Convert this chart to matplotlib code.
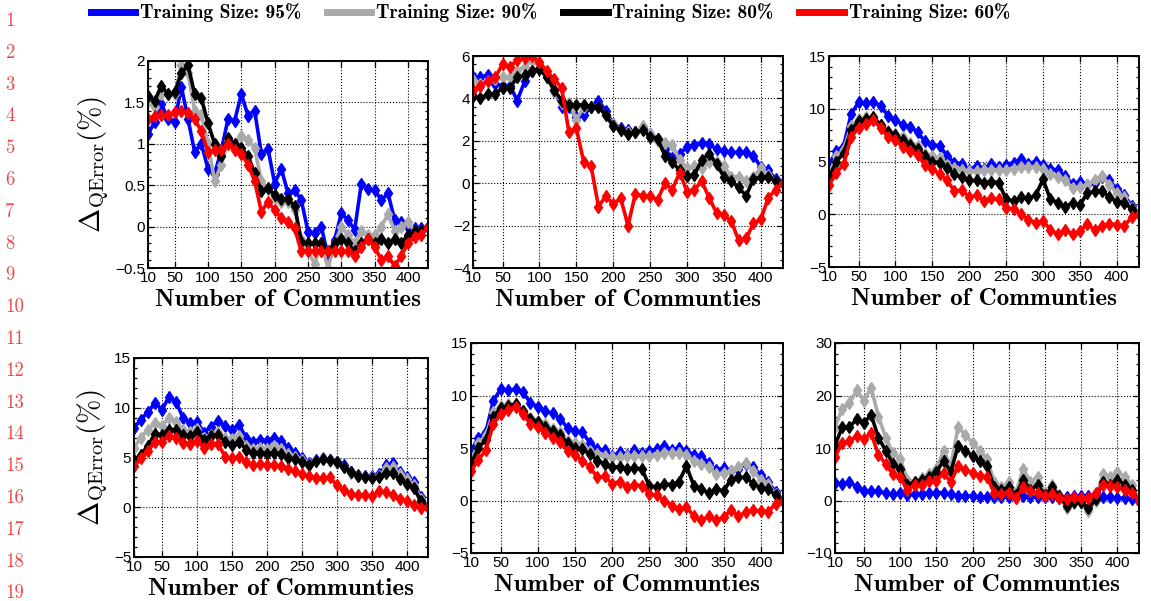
import matplotlib.pyplot as plt
from matplotlib.lines import Line2D
from matplotlib.ticker import AutoMinorLocator, FuncFormatter

plt.rcParams['mathtext.fontset'] = 'cm'
plt.rcParams['font.family'] = ['Liberation Sans', 'DejaVu Sans']

communities = [10, 20, 30, 40, 50, 60, 70, 80, 90, 100, 110, 120, 130, 140, 150,
               160, 170, 180, 190, 200, 210, 220, 230, 240, 250, 260, 270, 280, 290,
               300, 310, 320, 330, 340, 350, 360, 370, 380, 390, 400, 410, 420, 430]

labels = ["Training Size: 95%", "Training Size: 90%", "Training Size: 80%", "Training Size: 60%"]
colors = ["#0000ff", "#aaaaaa", "#000000", "#ff0000"]

# panel 1
p1_95 = [1.12, 1.26, 1.48, 1.30, 1.26, 1.69, 1.30, 0.90, 1.00, 0.70, 0.64, 0.92, 1.30, 1.28, 1.60,
         1.34, 1.40, 0.88, 0.94, 0.52, 0.70, 0.40, 0.44, 0.32, -0.06, -0.08, 0.00, -0.36, -0.16,
         0.16, 0.08, -0.04, 0.52, 0.46, 0.44, 0.32, 0.40, 0.08, 0.05, 0.00, -0.02, -0.02, 0.00]
p1_90 = [1.50, 1.45, 1.60, 1.60, 1.60, 1.95, 1.85, 1.40, 1.35, 1.00, 0.55, 0.75, 1.05, 1.00, 1.10,
         1.05, 0.95, 0.55, 0.45, 0.35, 0.30, 0.30, 0.20, -0.15, -0.30, -0.45, -0.20, -0.50, -0.20,
         0.00, -0.10, -0.20, -0.05, -0.10, -0.10, 0.00, 0.15, -0.05, 0.00, 0.05, -0.05, -0.05, 0.00]
p1_80 = [1.58, 1.52, 1.70, 1.60, 1.62, 1.85, 1.95, 1.60, 1.55, 1.25, 1.00, 0.85, 1.07, 1.00, 0.95,
         0.85, 0.65, 0.43, 0.47, 0.38, 0.33, 0.33, 0.25, -0.18, -0.20, -0.20, -0.20, -0.30, -0.20,
         -0.15, -0.20, -0.30, -0.20, -0.15, -0.20, -0.15, -0.20, -0.15, -0.20, -0.10, -0.05, -0.05, 0.00]
p1_60 = [1.30, 1.33, 1.35, 1.35, 1.38, 1.40, 1.37, 1.30, 1.15, 0.90, 0.92, 0.92, 1.00, 0.92, 0.88,
         0.75, 0.55, 0.18, 0.30, 0.20, 0.10, 0.06, -0.02, -0.30, -0.30, -0.30, -0.30, -0.30, -0.30,
         -0.30, -0.30, -0.35, -0.25, -0.15, -0.25, -0.40, -0.35, -0.48, -0.35, -0.20, -0.12, -0.10, 0.00]

# panel 2
p2_95 = [5.0, 5.0, 5.1, 4.7, 4.6, 4.6, 3.9, 4.8, 5.3, 5.4, 5.1, 4.4, 3.6, 3.6, 3.1,
         3.2, 3.6, 3.9, 3.4, 2.8, 2.6, 2.5, 2.4, 2.6, 2.3, 2.1, 1.6, 1.2, 1.4,
         1.7, 1.8, 1.9, 1.85, 1.6, 1.5, 1.45, 1.45, 1.45, 1.3, 0.75, 0.6, 0.2, 0.0]
p2_90 = [4.85, 4.7, 4.8, 4.9, 5.0, 5.0, 5.3, 5.5, 5.8, 5.6, 5.0, 4.3, 3.8, 3.8, 3.0,
         3.6, 3.6, 3.6, 3.2, 2.8, 2.5, 2.4, 2.4, 2.7, 2.3, 2.0, 1.9, 1.8, 1.1,
         0.7, 0.8, 0.7, 1.0, 1.0, 0.8, 0.3, 0.3, 0.1, 0.3, 0.7, 0.4, 0.1, 0.0]
p2_80 = [4.1, 4.0, 4.2, 4.2, 4.5, 4.5, 5.0, 5.1, 5.3, 5.4, 5.0, 4.4, 3.9, 3.7, 3.7,
         3.7, 3.6, 3.6, 3.2, 2.7, 2.5, 2.3, 2.4, 2.5, 2.2, 2.1, 1.3, 1.0, 0.6,
         0.35, 0.4, 1.1, 1.4, 0.9, 0.3, 0.1, -0.2, -0.6, 0.2, 0.3, 0.3, 0.1, 0.0]
p2_60 = [4.4, 4.6, 4.8, 5.0, 5.6, 5.5, 5.8, 5.9, 6.0, 5.7, 5.3, 4.9, 4.5, 2.4, 2.6,
         1.0, 0.8, -1.1, -0.6, -1.0, -0.7, -2.0, -0.5, -0.6, -0.6, -0.8, 0.0, -0.3, 0.5,
         -0.4, -0.3, 0.1, -0.7, -1.4, -1.5, -1.8, -2.7, -2.6, -1.9, -1.7, -0.7, -0.3, 0.0]

# panel 3 (same curves appear again in panel 5)
p3_95 = [4.7, 6.0, 6.5, 9.5, 10.6, 10.5, 10.6, 10.3, 9.3, 8.9, 8.5, 8.3, 7.8, 6.9, 6.6,
         6.5, 5.5, 4.9, 4.8, 4.2, 4.6, 4.3, 4.8, 4.5, 4.7, 4.9, 5.2, 4.8, 5.0,
         4.7, 4.3, 4.2, 3.6, 2.9, 3.1, 2.8, 3.0, 3.5, 3.2, 2.4, 1.8, 0.8, 0.0]
p3_90 = [3.8, 5.5, 6.2, 8.4, 9.0, 9.2, 9.0, 8.5, 7.9, 7.6, 7.3, 6.8, 6.5, 5.7, 5.5,
         5.3, 4.7, 4.4, 4.2, 4.1, 4.1, 4.2, 4.2, 4.2, 4.2, 4.3, 4.5, 4.5, 4.5,
         4.3, 3.8, 3.5, 3.2, 2.5, 2.6, 2.8, 3.2, 3.6, 2.8, 2.0, 1.6, 0.6, 0.0]
p3_80 = [3.5, 5.0, 5.8, 8.0, 8.8, 9.0, 9.2, 8.5, 7.8, 7.5, 7.0, 6.6, 6.2, 5.5, 5.0,
         4.9, 4.4, 3.8, 3.5, 3.2, 3.2, 3.0, 3.1, 3.0, 1.4, 1.3, 1.6, 1.5, 1.8,
         3.3, 1.4, 1.1, 0.7, 1.1, 0.9, 2.0, 2.2, 2.2, 1.6, 1.2, 1.1, 0.5, 0.0]
p3_60 = [2.8, 3.9, 4.8, 7.3, 8.2, 8.6, 8.9, 8.2, 7.3, 7.0, 6.4, 6.0, 5.6, 4.7, 4.3,
         3.8, 3.2, 2.2, 2.3, 1.6, 1.8, 1.3, 1.5, 1.4, 0.6, 0.5, 0.0, -0.5, -0.8,
         -0.6, -1.5, -1.9, -1.5, -1.9, -1.6, -0.9, -1.5, -1.1, -0.9, -1.0, -1.1, -0.3, 0.0]

# panel 4
p4_95 = [8.0, 8.8, 9.6, 10.5, 9.8, 11.1, 10.6, 9.0, 8.5, 8.6, 7.5, 8.1, 8.7, 8.2, 7.8,
         8.3, 7.0, 6.6, 6.8, 6.7, 7.0, 6.7, 6.0, 5.5, 5.0, 4.4, 4.7, 5.0, 4.7,
         4.5, 4.2, 3.5, 3.2, 3.1, 3.1, 3.3, 4.2, 4.4, 3.5, 3.0, 2.5, 1.0, 0.0]
p4_90 = [6.0, 7.0, 7.8, 8.5, 8.2, 9.0, 8.6, 7.8, 7.6, 7.9, 7.0, 7.3, 7.6, 7.0, 6.9,
         7.2, 6.2, 5.9, 6.0, 5.9, 6.2, 5.9, 5.4, 5.1, 4.7, 4.3, 4.6, 4.9, 4.6,
         4.4, 4.0, 3.4, 3.1, 3.0, 3.0, 3.1, 3.9, 4.0, 3.3, 2.8, 2.2, 0.8, 0.0]
p4_80 = [4.7, 5.3, 6.2, 7.4, 7.3, 7.8, 7.8, 7.3, 7.2, 7.6, 6.8, 7.2, 7.3, 6.6, 6.3,
         6.6, 5.8, 5.5, 5.5, 5.4, 5.5, 5.4, 5.0, 4.8, 4.5, 4.2, 4.6, 4.8, 4.7,
         4.5, 4.0, 3.5, 3.1, 3.0, 2.9, 3.0, 3.4, 3.4, 2.8, 2.3, 1.9, 0.6, 0.0]
p4_60 = [4.1, 4.9, 5.7, 6.6, 6.6, 7.2, 7.0, 6.5, 6.4, 6.7, 6.0, 6.4, 6.4, 5.1, 4.9,
         5.1, 4.5, 4.2, 4.3, 4.2, 4.2, 4.1, 3.8, 3.6, 3.3, 3.1, 2.9, 2.9, 3.0,
         2.2, 1.7, 1.3, 1.2, 1.2, 1.1, 1.6, 1.5, 1.2, 0.8, 0.6, 0.2, -0.1, 0.0]

# panel 6
p6_95 = [3.3, 3.2, 3.5, 2.6, 1.8, 1.9, 1.8, 1.4, 1.2, 1.4, 1.0, 1.3, 1.3, 1.4, 1.5,
         1.5, 1.2, 0.8, 0.9, 0.8, 0.7, 0.7, 0.7, 0.7, 0.7, 0.7, 0.8, 0.6, 0.7,
         0.6, 0.6, 0.5, 0.6, 0.8, 0.8, 0.9, 0.9, 0.6, 0.6, 0.5, 0.4, 0.2, 0.0]
p6_90 = [14.0, 17.5, 18.5, 21.0, 19.0, 21.5, 16.0, 12.0, 9.0, 8.0, 4.0, 3.5, 4.3, 5.0, 6.0,
         9.5, 6.5, 14.0, 12.5, 11.0, 9.5, 8.0, 3.5, 2.5, 3.5, 1.5, 6.0, 3.5, 4.5,
         1.5, 3.0, 1.0, -1.5, -0.5, -0.5, -2.0, 0.0, 5.0, 4.5, 5.5, 4.5, 3.0, 0.0]
p6_80 = [10.5, 14.0, 14.0, 15.5, 14.8, 16.3, 12.0, 9.5, 7.0, 6.0, 3.0, 3.5, 4.0, 4.5, 5.5,
         7.5, 5.5, 10.3, 9.5, 8.5, 7.5, 6.5, 2.5, 2.0, 2.5, 1.0, 4.0, 2.0, 3.0,
         1.0, 2.5, 0.8, -1.0, -0.3, -0.3, -1.5, 0.2, 3.5, 3.0, 4.0, 3.0, 2.0, 0.0]
p6_60 = [8.3, 11.0, 11.3, 12.3, 11.8, 12.8, 8.7, 7.0, 5.0, 4.5, 2.0, 3.0, 3.0, 3.7, 3.8,
         5.2, 3.5, 6.5, 5.8, 5.3, 4.7, 4.5, 1.5, 1.3, 1.5, 0.5, 2.5, 1.8, 1.5,
         0.8, 1.2, 0.5, 0.3, 0.6, 0.5, 0.5, 1.5, 3.0, 2.8, 2.6, 2.0, 1.5, 0.0]

x_ticks = [10, 50, 100, 150, 200, 250, 300, 350, 400]

W, H = 1151, 601
fig = plt.figure(figsize=(W / 100, H / 100), dpi=100)


def px_axes(left, right, top, bottom):
    return fig.add_axes([left / W, 1 - bottom / H, (right - left) / W, (bottom - top) / H])


panels = [
    # (pixel box, series, ylim, yticks, ylabel?)
    ((148, 428, 61, 268), [p1_95, p1_90, p1_80, p1_60], (-0.5, 2), [-0.5, 0, 0.5, 1, 1.5, 2], True),
    ((473, 783, 56, 268), [p2_95, p2_90, p2_80, p2_60], (-4, 6), [-4, -2, 0, 2, 4, 6], False),
    ((829, 1139, 56, 267), [p3_95, p3_90, p3_80, p3_60], (-5, 15), [-5, 0, 5, 10, 15], False),
    ((134, 428, 358, 557), [p4_95, p4_90, p4_80, p4_60], (-5, 15), [-5, 0, 5, 10, 15], True),
    ((471, 783, 343, 553), [p3_95, p3_90, p3_80, p3_60], (-5, 15), [-5, 0, 5, 10, 15], False),
    ((835, 1139, 343, 553), [p6_95, p6_90, p6_80, p6_60], (-10, 30), [-10, 0, 10, 20, 30], False),
]

fmt = FuncFormatter(lambda v, pos: f"{v:g}".replace("-", "\u2212"))

for box, series, ylim, yticks, show_ylabel in panels:
    ax = px_axes(*box)
    for vals, c in zip(series, colors):
        ax.plot(communities, vals, color=c, lw=2.6, marker="d", ms=6,
                markeredgecolor=c, markerfacecolor=c)
    ax.set_xlim(10, 430)
    ax.set_ylim(*ylim)
    ax.set_xticks(x_ticks)
    ax.set_yticks(yticks)
    ax.yaxis.set_major_formatter(fmt)
    ax.yaxis.set_minor_locator(AutoMinorLocator(5))
    ax.grid(True, which="major", color="black", linestyle=":", linewidth=0.8)
    ax.tick_params(which="both", direction="in", top=True, right=True, labelsize=11,
                   pad=2, width=0.9)
    ax.tick_params(which="major", length=4)
    ax.tick_params(which="minor", length=2)
    for s in ax.spines.values():
        s.set_linewidth(1.4)
    ax.set_xlabel("Number of Communties", family="cmb10", fontsize=18, labelpad=3)
    if show_ylabel:
        ax.set_ylabel(r"$\mathbf{\Delta}_{\mathrm{QError}}(\%)$", fontsize=21, labelpad=3)

handles = [Line2D([], [], color=c, lw=5) for c in colors]
fig.legend(handles, labels, loc="center", bbox_to_anchor=(0.478, 1 - 13 / H), ncol=4,
           frameon=False, prop={"family": "cmb10", "size": 14}, handlelength=2.3,
           handletextpad=0.25, columnspacing=1.3)

# line numbers at the left margin
line_no = list(range(1, 20))
for n in line_no:
    fig.text(5 / W, 1 - (21 + (n - 1) * 31.8) / H, str(n), color="#f04848",
             family="cmr10", fontsize=13.5, ha="left", va="center")

fig.savefig("out.png", dpi=100)
